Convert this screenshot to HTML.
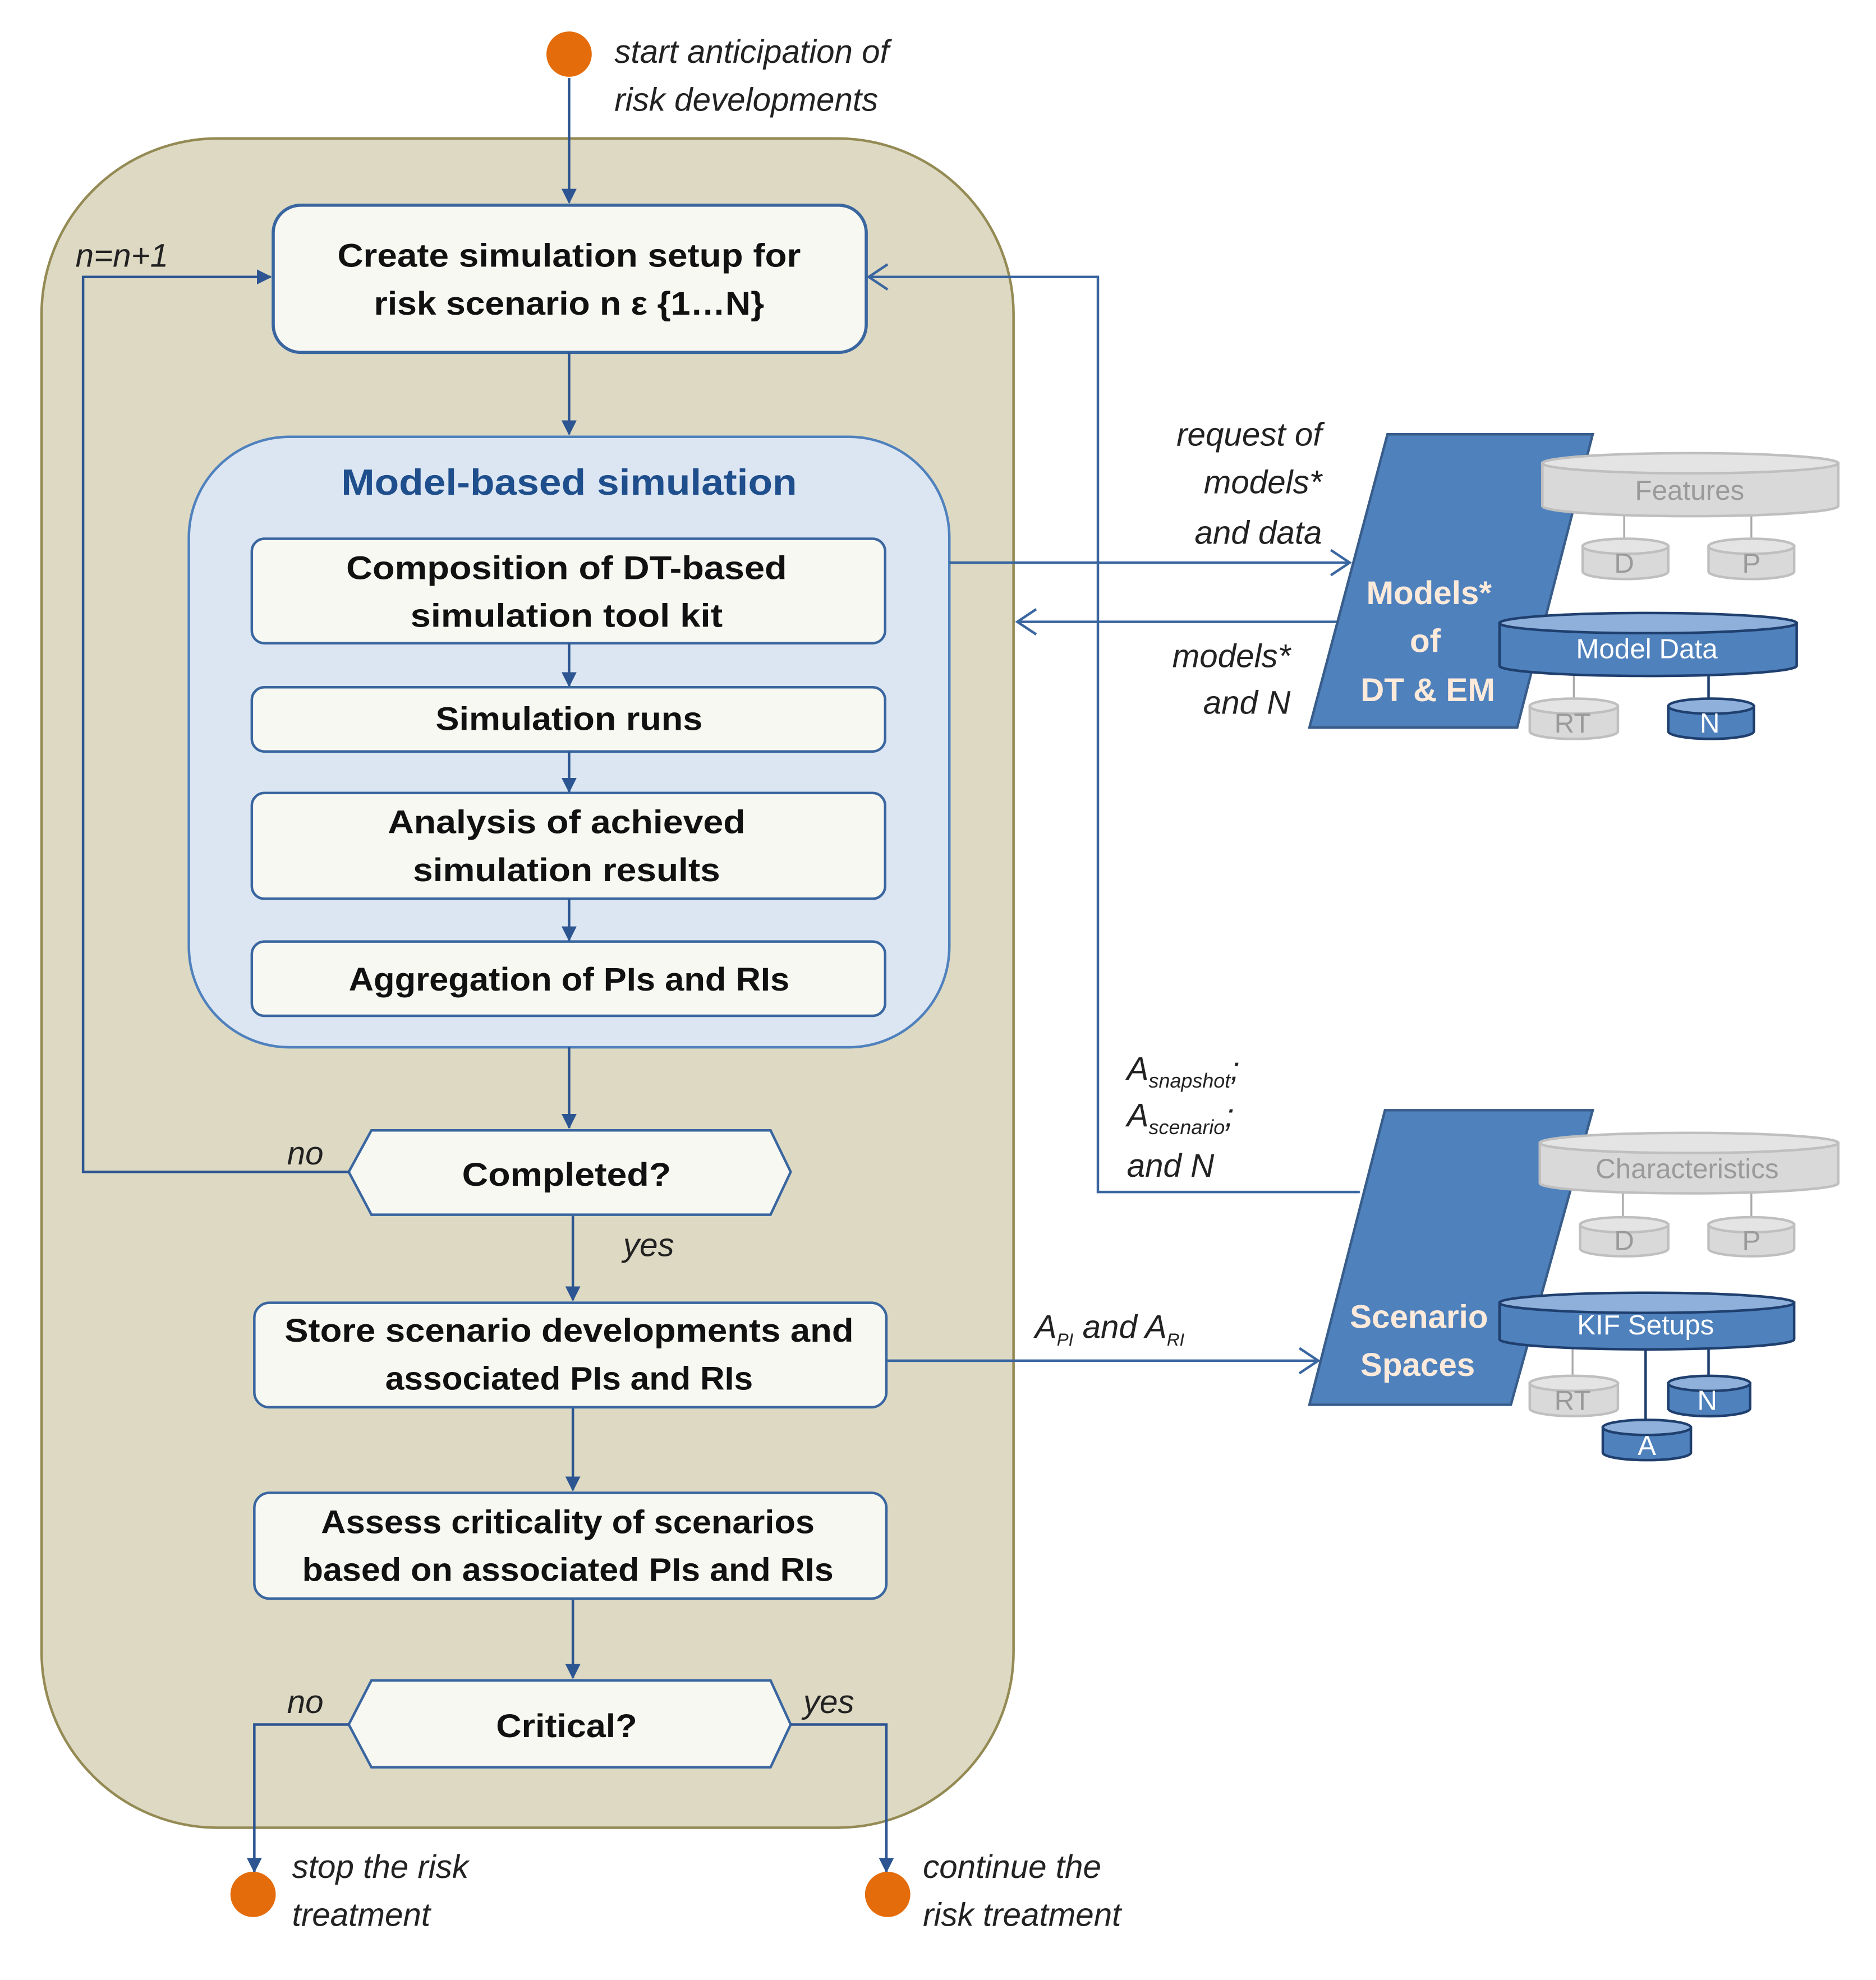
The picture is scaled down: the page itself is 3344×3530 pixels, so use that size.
<!DOCTYPE html>
<html><head><meta charset="utf-8"><style>
html,body{margin:0;padding:0;background:#fff;}
svg{display:block;}
text{font-family:"Liberation Sans",sans-serif;}
.b{font-weight:bold;font-size:26px;fill:#111;text-anchor:middle;}
.i{font-style:italic;font-size:26px;fill:#222;}
.w{font-weight:bold;font-size:26px;fill:#fdeada;text-anchor:middle;}
.g{font-size:22px;fill:#9a9a9a;text-anchor:middle;}
.wt{font-size:22px;fill:#fff;text-anchor:middle;}
</style></head><body>
<svg width="3344" height="3530" viewBox="0 0 1490 1573" preserveAspectRatio="none" xmlns="http://www.w3.org/2000/svg">
<defs>
<marker id="fa" markerWidth="12" markerHeight="12" refX="11" refY="6" orient="auto" markerUnits="userSpaceOnUse">
<path d="M0,0 L12,6 L0,12 Z" fill="#2c5592"/></marker>
<marker id="oa" markerWidth="18" markerHeight="22" refX="16" refY="11" orient="auto" markerUnits="userSpaceOnUse">
<path d="M1,1 L16,11 L1,21" fill="none" stroke="#3a66a0" stroke-width="2"/></marker>
</defs>
<rect width="1490" height="1573" fill="#fff"/>
<rect x="33" y="110" width="772" height="1342" rx="140" fill="#ddd9c3" stroke="#948a54" stroke-width="2"/>
<circle cx="452" cy="43" r="18" fill="#e46c0a"/>
<text class="i" x="488" y="50">start anticipation of</text>
<text class="i" x="488" y="88">risk developments</text>
<line x1="452" y1="62" x2="452" y2="161" stroke="#2c5592" stroke-width="2" marker-end="url(#fa)"/>
<rect x="217" y="163" width="471" height="117" rx="22" fill="#f8f8f2" stroke="#3a66a0" stroke-width="2.5"/>
<text class="b" x="452" y="212" textLength="368" lengthAdjust="spacingAndGlyphs">Create simulation setup for</text>
<text class="b" x="452" y="250" textLength="310" lengthAdjust="spacingAndGlyphs">risk scenario n ε {1…N}</text>
<line x1="452" y1="280" x2="452" y2="345" stroke="#2c5592" stroke-width="2" marker-end="url(#fa)"/>
<rect x="150" y="347" width="604" height="485" rx="80" fill="#dce6f2" stroke="#4f81bd" stroke-width="2"/>
<text x="452" y="393" text-anchor="middle" font-weight="bold" font-size="29" fill="#1f4e8c" textLength="362" lengthAdjust="spacingAndGlyphs">Model-based simulation</text>
<g fill="#f8f8f2" stroke="#3a66a0" stroke-width="2">
<rect x="200" y="428" width="503" height="83" rx="10"/>
<rect x="200" y="546" width="503" height="51" rx="10"/>
<rect x="200" y="630" width="503" height="84" rx="10"/>
<rect x="200" y="748" width="503" height="59" rx="10"/>
</g>
<text class="b" x="450" y="460" textLength="350" lengthAdjust="spacingAndGlyphs">Composition of  DT-based</text>
<text class="b" x="450" y="498" textLength="248" lengthAdjust="spacingAndGlyphs">simulation tool kit</text>
<text class="b" x="452" y="580" textLength="212" lengthAdjust="spacingAndGlyphs">Simulation runs</text>
<text class="b" x="450" y="662" textLength="284" lengthAdjust="spacingAndGlyphs">Analysis of  achieved</text>
<text class="b" x="450" y="700" textLength="244" lengthAdjust="spacingAndGlyphs">simulation results</text>
<text class="b" x="452" y="787" textLength="350" lengthAdjust="spacingAndGlyphs">Aggregation of PIs and RIs</text>
<g stroke="#2c5592" stroke-width="2" marker-end="url(#fa)">
<line x1="452" y1="511" x2="452" y2="545"/>
<line x1="452" y1="597" x2="452" y2="629"/>
<line x1="452" y1="714" x2="452" y2="747"/>
<line x1="452" y1="832" x2="452" y2="896"/>
<line x1="455" y1="965" x2="455" y2="1033"/>
<line x1="455" y1="1118" x2="455" y2="1184"/>
<line x1="455" y1="1270" x2="455" y2="1333"/>
</g>
<polygon points="295,898 612,898 628,931 612,965 295,965 277,931" fill="#f8f8f2" stroke="#3a66a0" stroke-width="2"/>
<text class="b" x="450" y="942" textLength="166" lengthAdjust="spacingAndGlyphs">Completed?</text>
<polyline points="277,931 66,931 66,220 215,220" fill="none" stroke="#2c5592" stroke-width="2" marker-end="url(#fa)"/>
<text class="i" x="60" y="212" font-size="24">n=n+1</text>
<text class="i" x="228" y="925">no</text>
<text class="i" x="495" y="998">yes</text>
<rect x="202" y="1035" width="502" height="83" rx="12" fill="#f8f8f2" stroke="#3a66a0" stroke-width="2"/>
<text class="b" x="452" y="1066" textLength="452" lengthAdjust="spacingAndGlyphs">Store scenario developments and</text>
<text class="b" x="452" y="1104" textLength="292" lengthAdjust="spacingAndGlyphs">associated PIs and RIs</text>
<rect x="202" y="1186" width="502" height="84" rx="12" fill="#f8f8f2" stroke="#3a66a0" stroke-width="2"/>
<text class="b" x="451" y="1218" textLength="392" lengthAdjust="spacingAndGlyphs">Assess criticality of scenarios</text>
<text class="b" x="451" y="1256" textLength="422" lengthAdjust="spacingAndGlyphs">based on associated PIs and RIs</text>
<polygon points="295,1335 612,1335 628,1370 612,1404 295,1404 277,1370" fill="#f8f8f2" stroke="#3a66a0" stroke-width="2"/>
<text class="b" x="450" y="1380" textLength="112" lengthAdjust="spacingAndGlyphs">Critical?</text>
<text class="i" x="228" y="1361">no</text>
<text class="i" x="638" y="1361">yes</text>
<polyline points="277,1370 202,1370 202,1487" fill="none" stroke="#2c5592" stroke-width="2" marker-end="url(#fa)"/>
<polyline points="628,1370 704,1370 704,1487" fill="none" stroke="#2c5592" stroke-width="2" marker-end="url(#fa)"/>
<circle cx="201" cy="1505" r="18" fill="#e46c0a"/>
<circle cx="705" cy="1505" r="18" fill="#e46c0a"/>
<text class="i" x="232" y="1492">stop the risk</text>
<text class="i" x="232" y="1530">treatment</text>
<text class="i" x="733" y="1492">continue the</text>
<text class="i" x="733" y="1530">risk treatment</text>
<g fill="none" stroke="#3a66a0" stroke-width="2">
<line x1="754" y1="447" x2="1072" y2="447" marker-end="url(#oa)"/>
<line x1="1062" y1="494" x2="808" y2="494" marker-end="url(#oa)"/>
<polyline points="1080,947 872,947 872,220 690,220" marker-end="url(#oa)"/>
<line x1="704" y1="1081" x2="1047" y2="1081" marker-end="url(#oa)"/>
</g>
<text class="i" x="1050" y="354" text-anchor="end">request of</text>
<text class="i" x="1050" y="392" text-anchor="end">models*</text>
<text class="i" x="1050" y="432" text-anchor="end">and data</text>
<text class="i" x="1025" y="530" text-anchor="end">models*</text>
<text class="i" x="1025" y="567" text-anchor="end">and N</text>
<text class="i" x="895" y="858">A<tspan font-size="16" dy="6">snapshot</tspan><tspan dy="-6">;</tspan></text>
<text class="i" x="895" y="895">A<tspan font-size="16" dy="6">scenario</tspan><tspan dy="-6">;</tspan></text>
<text class="i" x="895" y="935">and N</text>
<text class="i" x="822" y="1063">A<tspan font-size="14" dy="6">PI</tspan><tspan dy="-6"> and A</tspan><tspan font-size="14" dy="6">RI</tspan></text>
<polygon points="1102,345 1265,345 1205,578 1040,578" fill="#4f81bd" stroke="#385d8a" stroke-width="2"/>
<polygon points="1100,882 1265,882 1200,1116 1040,1116" fill="#4f81bd" stroke="#385d8a" stroke-width="2"/>
<text class="w" x="1135" y="480">Models*</text>
<text class="w" x="1132" y="518">of</text>
<text class="w" x="1134" y="557">DT &amp; EM</text>
<text class="w" x="1127" y="1055">Scenario</text>
<text class="w" x="1126" y="1093">Spaces</text>
<g stroke="#aaa" stroke-width="1.5">
<line x1="1290" y1="410" x2="1290" y2="430"/><line x1="1391" y1="410" x2="1391" y2="430"/>
<line x1="1250" y1="537" x2="1250" y2="557"/>
<line x1="1289" y1="948" x2="1289" y2="968"/><line x1="1391" y1="948" x2="1391" y2="968"/>
<line x1="1249" y1="1072" x2="1249" y2="1095"/>
</g>
<g stroke="#1f3f6e" stroke-width="2">
<line x1="1357" y1="537" x2="1357" y2="557"/>
<line x1="1357" y1="1072" x2="1357" y2="1095"/>
<line x1="1307" y1="1072" x2="1307" y2="1130"/>
</g>
<g fill="#d9d9d9" stroke="#bfbfbf" stroke-width="2">
<path d="M1225,368 V402 A117,8 0 0 0 1460,402 V368 Z"/><ellipse cx="1342.5" cy="368" rx="117.5" ry="8" fill="#e4e4e4"/>
<path d="M1257,434 V454 A34,6 0 0 0 1325,454 V434 Z"/><ellipse cx="1291" cy="434" rx="34" ry="6" fill="#e4e4e4"/>
<path d="M1357,434 V454 A34,6 0 0 0 1425,454 V434 Z"/><ellipse cx="1391" cy="434" rx="34" ry="6" fill="#e4e4e4"/>
<path d="M1215,561 V581 A35,6 0 0 0 1285,581 V561 Z"/><ellipse cx="1250" cy="561" rx="35" ry="6" fill="#e4e4e4"/>
<path d="M1223,908 V940 A118,8 0 0 0 1460,940 V908 Z"/><ellipse cx="1341.5" cy="908" rx="118.5" ry="8" fill="#e4e4e4"/>
<path d="M1255,973 V992 A35,6 0 0 0 1325,992 V973 Z"/><ellipse cx="1290" cy="973" rx="35" ry="6" fill="#e4e4e4"/>
<path d="M1357,973 V992 A34,6 0 0 0 1425,992 V973 Z"/><ellipse cx="1391" cy="973" rx="34" ry="6" fill="#e4e4e4"/>
<path d="M1215,1099 V1119 A35,6 0 0 0 1285,1119 V1099 Z"/><ellipse cx="1250" cy="1099" rx="35" ry="6" fill="#e4e4e4"/>
</g>
<g fill="#4f81bd" stroke="#1f3f6e" stroke-width="2">
<path d="M1191,495 V529 A118,8 0 0 0 1427,529 V495 Z"/><ellipse cx="1309" cy="495" rx="118" ry="8" fill="#8eb0da"/>
<path d="M1325,561 V581 A34,6 0 0 0 1393,581 V561 Z"/><ellipse cx="1359" cy="561" rx="34" ry="6" fill="#8eb0da"/>
<path d="M1191,1035 V1064 A117,8 0 0 0 1425,1064 V1035 Z"/><ellipse cx="1308" cy="1035" rx="117" ry="8" fill="#8eb0da"/>
<path d="M1325,1099 V1119 A32,6 0 0 0 1390,1119 V1099 Z"/><ellipse cx="1357.5" cy="1099" rx="32.5" ry="6" fill="#8eb0da"/>
<path d="M1273,1134 V1154 A35,6 0 0 0 1343,1154 V1134 Z"/><ellipse cx="1308" cy="1134" rx="35" ry="6" fill="#8eb0da"/>
</g>
<text class="g" x="1342" y="397" font-size="24">Features</text>
<text class="g" x="1290" y="455">D</text>
<text class="g" x="1391" y="455">P</text>
<text class="g" x="1249" y="582">RT</text>
<text class="wt" x="1308" y="523" font-size="24">Model Data</text>
<text class="wt" x="1358" y="582">N</text>
<text class="g" x="1340" y="936" font-size="24">Characteristics</text>
<text class="g" x="1290" y="993">D</text>
<text class="g" x="1391" y="993">P</text>
<text class="g" x="1249" y="1120">RT</text>
<text class="wt" x="1307" y="1060" font-size="24">KIF Setups</text>
<text class="wt" x="1356" y="1120">N</text>
<text class="wt" x="1308" y="1156">A</text>
</svg>
</body></html>
